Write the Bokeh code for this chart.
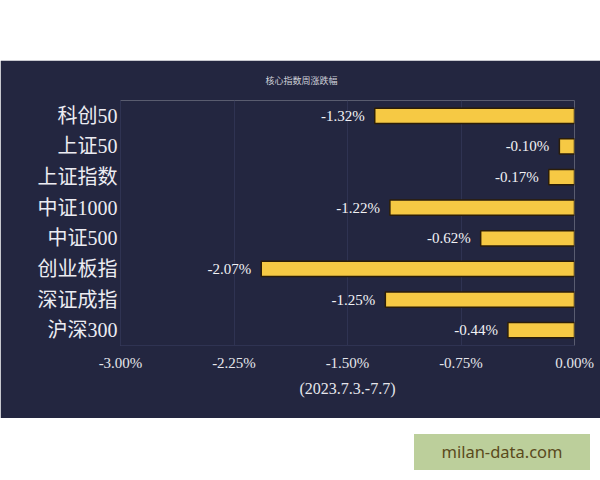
from bokeh.plotting import figure
from bokeh.models import (FactorRange, Range1d, FixedTicker, PrintfTickFormatter,
                          ColumnDataSource, Spacer, Div)
from bokeh.layouts import column, row
from bokeh.core.properties import value
from bokeh.embed import file_html
from bokeh.resources import INLINE

# ---- data ----
categories = ["科创50", "上证50", "上证指数", "中证1000", "中证500", "创业板指", "深证成指", "沪深300"]
changes = [-1.32, -0.10, -0.17, -1.22, -0.62, -2.07, -1.25, -0.44]
x_ticks = [-3.0, -2.25, -1.5, -0.75, 0.0]
title_text = "核心指数周涨跌幅"
x_label = "(2023.7.3.-7.7)"
watermark = "milan-data.com"

BG = "#232640"
GRID = "#2f3352"
BAR = "#F6C944"
SERIF = "Liberation Serif, Noto Sans CJK SC"

labels = ["%.2f%%" % v for v in changes]
src = ColumnDataSource(dict(cat=categories, val=changes, zero=[0.0] * len(changes), lab=labels))

p = figure(width=600, height=358, output_backend="svg", toolbar_location=None,
           y_range=FactorRange(factors=list(reversed(categories))),
           x_range=Range1d(-3.0, 0.0))
p.min_border_left = 120
p.min_border_right = 26
p.min_border_top = 40
p.min_border_bottom = 73
p.background_fill_color = BG
p.border_fill_color = BG
p.outline_line_color = None

p.title.text = title_text
p.title.align = "left"
p.title.offset = 145
p.title.vertical_align = "top"
p.title.text_font = "Noto Sans CJK SC"
p.title.text_font_size = "9px"
p.title.text_font_style = "normal"
p.title.text_color = "#cfd0d8"
p.title.standoff = 24

p.hbar(y="cat", left="val", right="zero", height=0.5, source=src,
       fill_color=BAR, line_color="#2b1d08", line_width=1.5)
p.text(x="val", y="cat", text="lab", source=src, x_offset=-10,
       text_align="right", text_baseline="middle",
       text_font=value(SERIF), text_font_size="15px", text_color="#f2f2f5")

# axes
p.xaxis.ticker = FixedTicker(ticks=x_ticks)
p.xaxis.formatter = PrintfTickFormatter(format="%.2f%%")
p.xaxis.axis_label = x_label
p.xaxis.axis_label_text_font = SERIF
p.xaxis.axis_label_text_font_style = "normal"
p.xaxis.axis_label_text_font_size = "16px"
p.xaxis.axis_label_text_color = "#e6e6ec"
p.xaxis.axis_label_standoff = 6
p.xaxis.major_label_text_font = SERIF
p.xaxis.major_label_text_font_size = "15px"
p.xaxis.major_label_text_color = "#e6e6ec"
p.xaxis.major_label_standoff = 3
p.xaxis.major_tick_line_color = None
p.xaxis.minor_tick_line_color = None
p.xaxis.axis_line_color = GRID

p.yaxis.major_label_text_font = SERIF
p.yaxis.major_label_text_font_size = "20px"
p.yaxis.major_label_text_color = "#ececf2"
p.yaxis.major_label_standoff = 3
p.yaxis.major_tick_out = 0
p.yaxis.major_tick_in = 0
p.yaxis.major_tick_line_color = None
p.yaxis.minor_tick_line_color = None
p.yaxis.axis_line_color = GRID

p.xgrid.grid_line_color = GRID
p.ygrid.grid_line_color = None

wm = Div(text='<div style="width:176px;height:36px;line-height:36px;text-align:center;'
              'background:#bccf9b;color:#5a4a1c;font-family:\'Noto Sans\';font-size:16.5px;">'
              + watermark + '</div>', width=176, height=36)

layout = column(Spacer(height=60), p, Spacer(height=11), row(Spacer(width=409), wm))

open("out.html", "w").write(file_html(layout, INLINE))
